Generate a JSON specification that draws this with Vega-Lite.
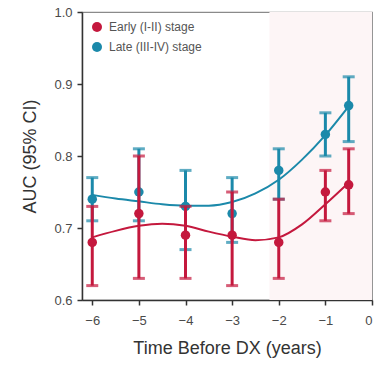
{
  "$schema": "https://vega.github.io/schema/vega-lite/v6.json",
  "width": 290,
  "height": 288,
  "autosize": "none",
  "padding": {"left": 82, "top": 12, "right": 3, "bottom": 70},
  "background": "#ffffff",
  "config": {
    "view": {"stroke": "#8a8a8a", "strokeWidth": 1.2},
    "font": "Liberation Sans",
    "axis": {
      "domainColor": "#333333",
      "domainWidth": 1.5,
      "tickColor": "#333333",
      "tickWidth": 1.5,
      "tickSize": 5,
      "grid": false,
      "labelFont": "Liberation Sans",
      "labelFontSize": 13,
      "labelColor": "#4a4a4a",
      "titleFont": "Liberation Sans",
      "titleFontSize": 18,
      "titleFontWeight": "normal",
      "titleColor": "#333333"
    },
    "legend": {
      "orient": "top-left",
      "offset": 9,
      "padding": 0,
      "title": null,
      "symbolType": "circle",
      "symbolSize": 100,
      "symbolOpacity": 1,
      "symbolStrokeWidth": 0,
      "labelFont": "Liberation Sans",
      "labelFontSize": 12,
      "labelColor": "#555555",
      "labelOffset": 6,
      "rowPadding": 8
    }
  },
  "datasets": {
    "auc": [
      {"t": -6, "group": "Late (III-IV) stage", "auc": 0.74, "lo": 0.71, "hi": 0.77},
      {"t": -5, "group": "Late (III-IV) stage", "auc": 0.75, "lo": 0.71, "hi": 0.81},
      {"t": -4, "group": "Late (III-IV) stage", "auc": 0.73, "lo": 0.67, "hi": 0.78},
      {"t": -3, "group": "Late (III-IV) stage", "auc": 0.72, "lo": 0.68, "hi": 0.77},
      {"t": -2, "group": "Late (III-IV) stage", "auc": 0.78, "lo": 0.74, "hi": 0.81},
      {"t": -1, "group": "Late (III-IV) stage", "auc": 0.83, "lo": 0.80, "hi": 0.86},
      {"t": -0.5, "group": "Late (III-IV) stage", "auc": 0.87, "lo": 0.82, "hi": 0.91},
      {"t": -6, "group": "Early (I-II) stage", "auc": 0.68, "lo": 0.62, "hi": 0.73},
      {"t": -5, "group": "Early (I-II) stage", "auc": 0.72, "lo": 0.63, "hi": 0.80},
      {"t": -4, "group": "Early (I-II) stage", "auc": 0.69, "lo": 0.63, "hi": 0.73},
      {"t": -3, "group": "Early (I-II) stage", "auc": 0.69, "lo": 0.62, "hi": 0.75},
      {"t": -2, "group": "Early (I-II) stage", "auc": 0.68, "lo": 0.63, "hi": 0.74},
      {"t": -1, "group": "Early (I-II) stage", "auc": 0.75, "lo": 0.71, "hi": 0.78},
      {"t": -0.5, "group": "Early (I-II) stage", "auc": 0.76, "lo": 0.72, "hi": 0.81}
    ],
    "fit": [
      {"t": -6, "group": "Late (III-IV) stage", "auc": 0.746},
      {"t": -5.5, "group": "Late (III-IV) stage", "auc": 0.741},
      {"t": -5, "group": "Late (III-IV) stage", "auc": 0.737},
      {"t": -4.5, "group": "Late (III-IV) stage", "auc": 0.733},
      {"t": -4, "group": "Late (III-IV) stage", "auc": 0.731},
      {"t": -3.5, "group": "Late (III-IV) stage", "auc": 0.731},
      {"t": -3, "group": "Late (III-IV) stage", "auc": 0.736},
      {"t": -2.5, "group": "Late (III-IV) stage", "auc": 0.748},
      {"t": -2, "group": "Late (III-IV) stage", "auc": 0.767},
      {"t": -1.5, "group": "Late (III-IV) stage", "auc": 0.795},
      {"t": -1, "group": "Late (III-IV) stage", "auc": 0.829},
      {"t": -0.5, "group": "Late (III-IV) stage", "auc": 0.869},
      {"t": -6, "group": "Early (I-II) stage", "auc": 0.687},
      {"t": -5.5, "group": "Early (I-II) stage", "auc": 0.696},
      {"t": -5, "group": "Early (I-II) stage", "auc": 0.703},
      {"t": -4.5, "group": "Early (I-II) stage", "auc": 0.706},
      {"t": -4, "group": "Early (I-II) stage", "auc": 0.703},
      {"t": -3.5, "group": "Early (I-II) stage", "auc": 0.695},
      {"t": -3, "group": "Early (I-II) stage", "auc": 0.688},
      {"t": -2.5, "group": "Early (I-II) stage", "auc": 0.683},
      {"t": -2, "group": "Early (I-II) stage", "auc": 0.687},
      {"t": -1.5, "group": "Early (I-II) stage", "auc": 0.705},
      {"t": -1, "group": "Early (I-II) stage", "auc": 0.733},
      {"t": -0.5, "group": "Early (I-II) stage", "auc": 0.763}
    ],
    "band": [{"start": -2.2, "end": 0}]
  },
  "layer": [
    {
      "data": {"name": "band"},
      "mark": {"type": "rect", "color": "#fdf5f6", "opacity": 1},
      "encoding": {
        "x": {"field": "start", "type": "quantitative"},
        "x2": {"field": "end"},
        "y": {"datum": 0.6, "type": "quantitative"},
        "y2": {"datum": 1.0}
      }
    },
    {
      "data": {"name": "fit"},
      "mark": {"type": "line", "interpolate": "monotone", "strokeWidth": 2},
      "encoding": {
        "x": {"field": "t", "type": "quantitative"},
        "y": {"field": "auc", "type": "quantitative"},
        "stroke": {
          "field": "group",
          "type": "nominal",
          "scale": {"domain": ["Early (I-II) stage", "Late (III-IV) stage"], "range": ["#c4183d", "#1b89aa"]}
        }
      }
    },
    {
      "data": {"name": "auc"},
      "transform": [{"filter": "datum.group === 'Late (III-IV) stage'"}],
      "layer": [
        {
          "mark": {"type": "rule", "strokeWidth": 3},
          "encoding": {
            "x": {"field": "t", "type": "quantitative"},
            "y": {"field": "lo", "type": "quantitative"},
            "y2": {"field": "hi"},
            "stroke": {"field": "group", "type": "nominal"}
          }
        },
        {
          "mark": {"type": "tick", "orient": "horizontal", "size": 12, "thickness": 3},
          "encoding": {
            "x": {"field": "t", "type": "quantitative"},
            "y": {"field": "lo", "type": "quantitative"},
            "fill": {
              "field": "group",
              "type": "nominal",
              "scale": {"domain": ["Early (I-II) stage", "Late (III-IV) stage"], "range": ["#c4183d", "#1b89aa"]}
            }
          }
        },
        {
          "mark": {"type": "tick", "orient": "horizontal", "size": 12, "thickness": 3},
          "encoding": {
            "x": {"field": "t", "type": "quantitative"},
            "y": {"field": "hi", "type": "quantitative"},
            "fill": {"field": "group", "type": "nominal"}
          }
        },
        {
          "mark": {"type": "point", "filled": true, "size": 90, "opacity": 1},
          "encoding": {
            "x": {"field": "t", "type": "quantitative"},
            "y": {"field": "auc", "type": "quantitative"},
            "fill": {"field": "group", "type": "nominal"}
          }
        }
      ]
    },
    {
      "data": {"name": "auc"},
      "transform": [{"filter": "datum.group === 'Early (I-II) stage'"}],
      "layer": [
        {
          "mark": {"type": "rule", "strokeWidth": 3},
          "encoding": {
            "x": {"field": "t", "type": "quantitative"},
            "y": {"field": "lo", "type": "quantitative"},
            "y2": {"field": "hi"},
            "stroke": {"field": "group", "type": "nominal"}
          }
        },
        {
          "mark": {"type": "tick", "orient": "horizontal", "size": 12, "thickness": 3},
          "encoding": {
            "x": {"field": "t", "type": "quantitative"},
            "y": {"field": "lo", "type": "quantitative"},
            "fill": {"field": "group", "type": "nominal"}
          }
        },
        {
          "mark": {"type": "tick", "orient": "horizontal", "size": 12, "thickness": 3},
          "encoding": {
            "x": {"field": "t", "type": "quantitative"},
            "y": {"field": "hi", "type": "quantitative"},
            "fill": {"field": "group", "type": "nominal"}
          }
        },
        {
          "mark": {"type": "point", "filled": true, "size": 90, "opacity": 1},
          "encoding": {
            "x": {"field": "t", "type": "quantitative"},
            "y": {"field": "auc", "type": "quantitative"},
            "fill": {"field": "group", "type": "nominal"}
          }
        }
      ]
    }
  ],
  "resolve": {"scale": {"stroke": "shared", "fill": "shared"}},
  "encoding": {
    "x": {
      "scale": {"domain": [-6.22, 0], "nice": false, "zero": false},
      "axis": {
        "values": [-6, -5, -4, -3, -2, -1, 0],
        "title": "Time Before DX (years)",
        "labelPadding": 9,
        "titlePadding": 12
      }
    },
    "y": {
      "scale": {"domain": [0.6, 1.0], "nice": false, "zero": false},
      "axis": {
        "values": [0.6, 0.7, 0.8, 0.9, 1.0],
        "format": ".1f",
        "title": "AUC (95% CI)",
        "labelPadding": 5,
        "titlePadding": 14
      }
    }
  }
}
